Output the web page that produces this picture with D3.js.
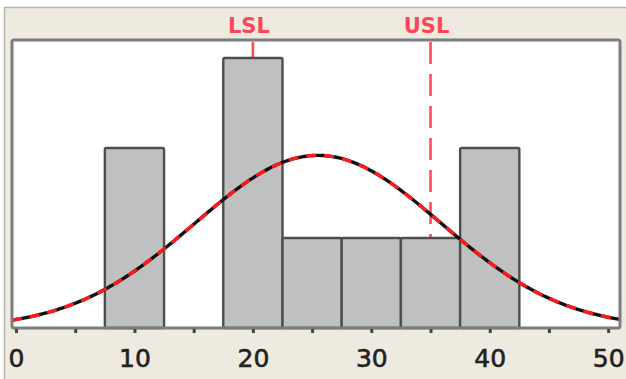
<!DOCTYPE html>
<html>
<head>
<meta charset="utf-8">
<script src="https://cdn.jsdelivr.net/npm/d3@7/dist/d3.min.js"></script>
<style>
  html, body { margin: 0; padding: 0; background: #ffffff; }
  svg { display: block; }
</style>
</head>
<body>
<svg id="chart" width="626" height="379"></svg>
<script>
// Histogram bins (lower edge, upper edge) and their counts
const binStart = [7.5, 17.5, 22.5, 27.5, 32.5, 37.5];
const binEnd   = [12.5, 22.5, 27.5, 32.5, 37.5, 42.5];
const counts   = [2, 3, 1, 1, 1, 2];

// Axis ticks
const majorTicks = [0, 10, 20, 30, 40, 50];
const minorTicks = [0, 5, 10, 15, 20, 25, 30, 35, 40, 45, 50];

// Specification limits
const specNames  = ["LSL", "USL"];
const specValues = [20, 35];

// Fitted normal distribution
const fitMean = 25.5;
const fitSigma = 10.4;
const sampleSize = 10;
const binWidth = 5;

const svg = d3.select("#chart");
const W = 626, H = 379;

// Panel background and frame
svg.append("rect").attr("x", 0).attr("y", 0).attr("width", W).attr("height", H).attr("fill", "#ffffff");
svg.append("rect").attr("x", 4).attr("y", 7).attr("width", W - 4).attr("height", H - 7).attr("fill", "#eeeae0");
svg.append("line").attr("x1", 4).attr("x2", W).attr("y1", 7.5).attr("y2", 7.5).attr("stroke", "#b4b2ac").attr("stroke-width", 1.5);
svg.append("line").attr("x1", 4.5).attr("x2", 4.5).attr("y1", 7).attr("y2", H).attr("stroke", "#b4b2ac").attr("stroke-width", 1.5);

const plot = { left: 12, right: 620, top: 40, bottom: 328 };

const x = d3.scaleLinear().domain([-0.34, 51.0]).range([plot.left, plot.right]);
const y = d3.scaleLinear().domain([0, 3.2]).range([plot.bottom, plot.top]);

// Plot area
svg.append("rect")
  .attr("x", plot.left).attr("y", plot.top)
  .attr("width", plot.right - plot.left).attr("height", plot.bottom - plot.top)
  .attr("fill", "#ffffff");

// Specification limit lines (behind the bars)
svg.append("g").selectAll("line")
  .data(specValues)
  .join("line")
  .attr("x1", d => x(d)).attr("x2", d => x(d))
  .attr("y1", plot.top + 2).attr("y2", plot.bottom)
  .attr("stroke", "#ff4a5c")
  .attr("stroke-width", 2.6)
  .attr("stroke-dasharray", "22 10");

// Bars
const bins = counts.map((c, i) => ({ x0: binStart[i], x1: binEnd[i], n: c }));
svg.append("g").selectAll("rect")
  .data(bins)
  .join("rect")
  .attr("x", d => x(d.x0))
  .attr("y", d => y(d.n))
  .attr("width", d => x(d.x1) - x(d.x0))
  .attr("height", d => y(0) - y(d.n))
  .attr("fill", "#c0c0c0")
  .attr("stroke", "#4e4e4e")
  .attr("stroke-width", 2.4)
  .attr("rx", 1.5);

// Fitted normal curve, scaled to counts per bin
const scaleFactor = sampleSize * binWidth / (fitSigma * Math.sqrt(2 * Math.PI));
const curveX = d3.range(0, 241).map(i => x.domain()[0] + (x.domain()[1] - x.domain()[0]) * i / 240);
const curvePts = curveX.map(v => [v, scaleFactor * Math.exp(-0.5 * ((v - fitMean) / fitSigma) ** 2)]);
const line = d3.line().x(d => x(d[0])).y(d => y(d[1])).curve(d3.curveBasis);

svg.append("path").datum(curvePts)
  .attr("d", line).attr("fill", "none")
  .attr("stroke", "#111111").attr("stroke-width", 3.4);
svg.append("path").datum(curvePts)
  .attr("d", line).attr("fill", "none")
  .attr("stroke", "#ff1a1a").attr("stroke-width", 3.4)
  .attr("stroke-dasharray", "10 8");

// Plot frame
svg.append("rect")
  .attr("x", plot.left).attr("y", plot.top)
  .attr("width", plot.right - plot.left).attr("height", plot.bottom - plot.top)
  .attr("fill", "none")
  .attr("stroke", "#7c7c7c")
  .attr("stroke-width", 3)
  .attr("rx", 2);

// X axis ticks and labels
const axis = d3.axisBottom(x)
  .tickValues(minorTicks)
  .tickSize(4)
  .tickFormat(d => majorTicks.includes(d) ? d3.format("d")(d) : "");
const gx = svg.append("g").attr("transform", `translate(0,${plot.bottom + 1})`).call(axis);
gx.select(".domain").remove();
gx.selectAll(".tick line").attr("stroke", "#444444").attr("stroke-width", 3);
gx.selectAll(".tick text")
  .attr("y", 20)
  .attr("dy", "0.71em")
  .attr("fill", "#222222")
  .attr("stroke", "#222222")
  .attr("stroke-width", 0.6)
  .style("font-family", "'DejaVu Sans', Verdana, sans-serif")
  .style("font-size", "25px");

// Specification limit labels
svg.append("g").selectAll("text")
  .data(specValues)
  .join("text")
  .attr("x", d => x(d) - 4)
  .attr("y", 33)
  .attr("text-anchor", "middle")
  .attr("fill", "#ff4458")
  .style("font-family", "'DejaVu Sans', Verdana, sans-serif")
  .style("font-weight", "bold")
  .style("font-size", "21px")
  .text((d, i) => specNames[i]);
</script>
</body>
</html>
